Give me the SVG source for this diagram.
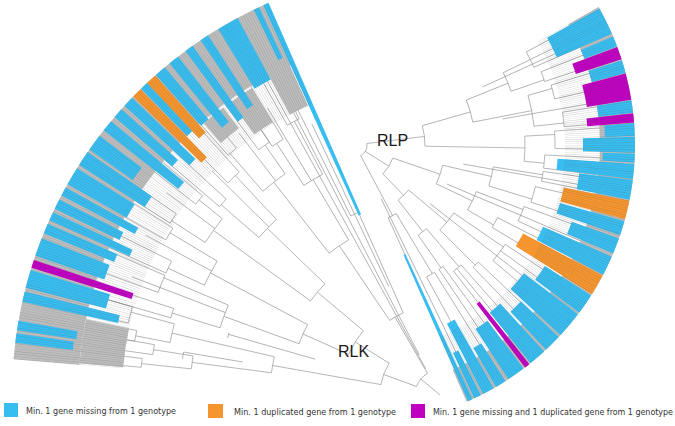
<svg xmlns="http://www.w3.org/2000/svg" width="675" height="426" viewBox="0 0 675 426">
<style>
.b{fill:none;stroke:#8d8d8d;stroke-width:.6}
.s{fill:none}
.cy{stroke:#38bdf0}
.or{stroke:#f6952d}
.mg{stroke:#c000c0}
.gr{stroke:#bdbdbd}
.tx{stroke:#5a5a5a;stroke-opacity:.33;fill:none}
.t{font-family:"DejaVu Sans",Verdana,sans-serif;font-size:8px;fill:#333}
.lb{font-family:"Liberation Sans",Arial,sans-serif;font-size:16px;fill:#1a1a1a}
</style>
<defs>
<clipPath id="cl"><polygon points="440,395 -8.4,357.3 17.1,241.1 71.4,136.9 150.7,50.3 259.1,-17"/></clipPath>
<clipPath id="cr"><polygon points="355,145 616.1,-2.7 653.9,118.9 636.9,247.6 567.1,357.1 474.6,420.1"/></clipPath>
</defs>
<rect width="675" height="426" fill="#fff"/>

<g id="rlk-tree" transform="translate(440,395)">
<g id="rlk-branches">
<line class="b" x1="0" x2="25" transform="rotate(220)"/>
<line class="b" x1="25" x2="90" transform="rotate(240)"/>
<line class="b" x1="25" x2="60" transform="rotate(200)"/>
<line class="b" x1="90" x2="200" transform="rotate(245.9)"/>
<line class="b" x1="90" x2="180" transform="rotate(236)"/>
<line class="b" x1="30" x2="370" transform="rotate(241.2)"/>
<line class="b" x1="45" x2="370" transform="rotate(242.6)"/>
<line class="b" x1="60" x2="100" transform="rotate(212)"/>
<line class="b" x1="60" x2="170" transform="rotate(190)"/>
<line class="b" x1="180" x2="250" transform="rotate(239.5)"/>
<line class="b" x1="180" x2="270" transform="rotate(232)"/>
<line class="b" x1="100" x2="160" transform="rotate(220)"/>
<line class="b" x1="100" x2="150" transform="rotate(204)"/>
<line class="b" x1="170" x2="275" transform="rotate(193)"/>
<line class="b" x1="170" x2="250" transform="rotate(187.5)"/>
<line class="b" x1="160" x2="240" transform="rotate(224)"/>
<line class="b" x1="160" x2="280" transform="rotate(216)"/>
<line class="b" x1="150" x2="260" transform="rotate(208)"/>
<line class="b" x1="150" x2="230" transform="rotate(200)"/>
<line class="b" x1="200" x2="380" transform="rotate(243.5)"/>
<line class="b" x1="200" x2="428" transform="rotate(245.9)"/>
<line class="b" x1="120" x2="300" transform="rotate(244.7)"/>
<line class="b" x1="250" x2="300" transform="rotate(237)"/>
<line class="b" x1="250" x2="310" transform="rotate(242)"/>
<line class="b" x1="250" x2="335" transform="rotate(239)"/>
<line class="b" x1="300" x2="370" transform="rotate(236)"/>
<line class="b" x1="300" x2="370" transform="rotate(238.5)"/>
<line class="b" x1="310" x2="370" transform="rotate(240.5)"/>
<line class="b" x1="310" x2="370" transform="rotate(243)"/>
<line class="b" x1="270" x2="320" transform="rotate(229)"/>
<line class="b" x1="270" x2="305" transform="rotate(235)"/>
<line class="b" x1="270" x2="330" transform="rotate(232.5)"/>
<line class="b" x1="320" x2="370" transform="rotate(228.5)"/>
<line class="b" x1="320" x2="370" transform="rotate(230.5)"/>
<line class="b" x1="305" x2="370" transform="rotate(233.5)"/>
<line class="b" x1="305" x2="370" transform="rotate(236)"/>
<line class="b" x1="240" x2="290" transform="rotate(221)"/>
<line class="b" x1="240" x2="300" transform="rotate(227)"/>
<line class="b" x1="240" x2="320" transform="rotate(224.5)"/>
<line class="b" x1="290" x2="370" transform="rotate(220.5)"/>
<line class="b" x1="290" x2="370" transform="rotate(222.5)"/>
<line class="b" x1="300" x2="370" transform="rotate(225)"/>
<line class="b" x1="300" x2="370" transform="rotate(228)"/>
<line class="b" x1="280" x2="320" transform="rotate(213)"/>
<line class="b" x1="280" x2="310" transform="rotate(219)"/>
<line class="b" x1="280" x2="340" transform="rotate(216.5)"/>
<line class="b" x1="320" x2="370" transform="rotate(212.5)"/>
<line class="b" x1="320" x2="370" transform="rotate(214.5)"/>
<line class="b" x1="310" x2="370" transform="rotate(218)"/>
<line class="b" x1="310" x2="370" transform="rotate(220)"/>
<line class="b" x1="260" x2="300" transform="rotate(205)"/>
<line class="b" x1="260" x2="315" transform="rotate(211)"/>
<line class="b" x1="260" x2="335" transform="rotate(208.5)"/>
<line class="b" x1="300" x2="370" transform="rotate(204)"/>
<line class="b" x1="300" x2="370" transform="rotate(206.5)"/>
<line class="b" x1="315" x2="370" transform="rotate(209.5)"/>
<line class="b" x1="315" x2="370" transform="rotate(212)"/>
<line class="b" x1="230" x2="280" transform="rotate(197)"/>
<line class="b" x1="230" x2="300" transform="rotate(203)"/>
<line class="b" x1="230" x2="330" transform="rotate(201)"/>
<line class="b" x1="280" x2="370" transform="rotate(196)"/>
<line class="b" x1="280" x2="370" transform="rotate(198)"/>
<line class="b" x1="300" x2="370" transform="rotate(200)"/>
<line class="b" x1="300" x2="370" transform="rotate(203.5)"/>
<line class="b" x1="275" x2="310" transform="rotate(191)"/>
<line class="b" x1="275" x2="320" transform="rotate(195)"/>
<line class="b" x1="310" x2="370" transform="rotate(190)"/>
<line class="b" x1="310" x2="370" transform="rotate(192)"/>
<line class="b" x1="320" x2="370" transform="rotate(193)"/>
<line class="b" x1="320" x2="370" transform="rotate(196)"/>
<line class="b" x1="250" x2="300" transform="rotate(186)"/>
<line class="b" x1="250" x2="290" transform="rotate(189)"/>
<line class="b" x1="300" x2="370" transform="rotate(185.3)"/>
<line class="b" x1="300" x2="370" transform="rotate(187)"/>
<line class="b" x1="290" x2="370" transform="rotate(188)"/>
<line class="b" x1="290" x2="370" transform="rotate(190)"/>
<line class="b" x1="200" x2="260" transform="rotate(189.5)"/>
<line class="b" x1="130" x2="220" transform="rotate(196)"/>
<circle class="b" r="25" pathLength="360" stroke-dasharray="40 999" transform="rotate(200)"/>
<circle class="b" r="90" pathLength="360" stroke-dasharray="9.9 999" transform="rotate(236)"/>
<circle class="b" r="60" pathLength="360" stroke-dasharray="22 999" transform="rotate(190)"/>
<circle class="b" r="180" pathLength="360" stroke-dasharray="7.5 999" transform="rotate(232)"/>
<circle class="b" r="100" pathLength="360" stroke-dasharray="16 999" transform="rotate(204)"/>
<circle class="b" r="170" pathLength="360" stroke-dasharray="5.5 999" transform="rotate(187.5)"/>
<circle class="b" r="160" pathLength="360" stroke-dasharray="8 999" transform="rotate(216)"/>
<circle class="b" r="150" pathLength="360" stroke-dasharray="8 999" transform="rotate(200)"/>
<circle class="b" r="200" pathLength="360" stroke-dasharray="2.4 999" transform="rotate(243.5)"/>
<circle class="b" r="250" pathLength="360" stroke-dasharray="5 999" transform="rotate(237)"/>
<circle class="b" r="300" pathLength="360" stroke-dasharray="2.5 999" transform="rotate(236)"/>
<circle class="b" r="310" pathLength="360" stroke-dasharray="2.5 999" transform="rotate(240.5)"/>
<circle class="b" r="270" pathLength="360" stroke-dasharray="6 999" transform="rotate(229)"/>
<circle class="b" r="320" pathLength="360" stroke-dasharray="2 999" transform="rotate(228.5)"/>
<circle class="b" r="305" pathLength="360" stroke-dasharray="2.5 999" transform="rotate(233.5)"/>
<circle class="b" r="240" pathLength="360" stroke-dasharray="6 999" transform="rotate(221)"/>
<circle class="b" r="290" pathLength="360" stroke-dasharray="2 999" transform="rotate(220.5)"/>
<circle class="b" r="300" pathLength="360" stroke-dasharray="3 999" transform="rotate(225)"/>
<circle class="b" r="280" pathLength="360" stroke-dasharray="6 999" transform="rotate(213)"/>
<circle class="b" r="320" pathLength="360" stroke-dasharray="2 999" transform="rotate(212.5)"/>
<circle class="b" r="310" pathLength="360" stroke-dasharray="2 999" transform="rotate(218)"/>
<circle class="b" r="260" pathLength="360" stroke-dasharray="6 999" transform="rotate(205)"/>
<circle class="b" r="300" pathLength="360" stroke-dasharray="2.5 999" transform="rotate(204)"/>
<circle class="b" r="315" pathLength="360" stroke-dasharray="2.5 999" transform="rotate(209.5)"/>
<circle class="b" r="230" pathLength="360" stroke-dasharray="6 999" transform="rotate(197)"/>
<circle class="b" r="280" pathLength="360" stroke-dasharray="2 999" transform="rotate(196)"/>
<circle class="b" r="300" pathLength="360" stroke-dasharray="3.5 999" transform="rotate(200)"/>
<circle class="b" r="275" pathLength="360" stroke-dasharray="4 999" transform="rotate(191)"/>
<circle class="b" r="310" pathLength="360" stroke-dasharray="2 999" transform="rotate(190)"/>
<circle class="b" r="320" pathLength="360" stroke-dasharray="3 999" transform="rotate(193)"/>
<circle class="b" r="250" pathLength="360" stroke-dasharray="3 999" transform="rotate(186)"/>
<circle class="b" r="300" pathLength="360" stroke-dasharray="1.7 999" transform="rotate(185.3)"/>
<circle class="b" r="290" pathLength="360" stroke-dasharray="2 999" transform="rotate(188)"/>
<circle class="b" r="260" pathLength="360" stroke-dasharray="1.5 999" transform="rotate(188)"/>
<circle class="b" r="220" pathLength="360" stroke-dasharray="1.5 999" transform="rotate(195)"/>
</g>
<g id="rlk-bands">
<circle class="s gr" r="395" stroke-width="66" pathLength="360" stroke-dasharray="61.4 999" transform="rotate(184.8)"/>
<circle class="s gr" r="345" stroke-width="54" pathLength="360" stroke-dasharray="3.7 999" transform="rotate(241.8)"/>
<circle class="s gr" r="340" stroke-width="40" pathLength="360" stroke-dasharray="4 999" transform="rotate(234.5)"/>
<circle class="s gr" r="347" stroke-width="26" pathLength="360" stroke-dasharray="4 999" transform="rotate(229)"/>
<circle class="s gr" r="340" stroke-width="44" pathLength="360" stroke-dasharray="7 999" transform="rotate(185)"/>
<circle class="s cy" r="312.5" stroke-width="231" pathLength="360" stroke-dasharray="0.8 999" transform="rotate(245.6)"/>
<circle class="s cy" r="400" stroke-width="56" pathLength="360" stroke-dasharray="0.8 999" transform="rotate(244.2)"/>
<circle class="s cy" r="393" stroke-width="70" pathLength="360" stroke-dasharray="3 999" transform="rotate(238.8)"/>
<circle class="s cy" r="386.5" stroke-width="83" pathLength="360" stroke-dasharray="1.2 999" transform="rotate(236)"/>
<circle class="s cy" r="384" stroke-width="88" pathLength="360" stroke-dasharray="1.2 999" transform="rotate(233.5)"/>
<circle class="s cy" r="386.5" stroke-width="83" pathLength="360" stroke-dasharray="1.5 999" transform="rotate(230.8)"/>
<circle class="s cy" r="394" stroke-width="68" pathLength="360" stroke-dasharray="1.6 999" transform="rotate(228.4)"/>
<circle class="s or" r="390" stroke-width="76" pathLength="360" stroke-dasharray="1.5 999" transform="rotate(226.8)"/>
<circle class="s cy" r="395" stroke-width="66" pathLength="360" stroke-dasharray="1.1 999" transform="rotate(225.7)"/>
<circle class="s or" r="380.5" stroke-width="95" pathLength="360" stroke-dasharray="1.4 999" transform="rotate(224.2)"/>
<circle class="s cy" r="384" stroke-width="88" pathLength="360" stroke-dasharray="1.5 999" transform="rotate(222.5)"/>
<circle class="s cy" r="390" stroke-width="76" pathLength="360" stroke-dasharray="1.4 999" transform="rotate(220.5)"/>
<circle class="s cy" r="380.5" stroke-width="95" pathLength="360" stroke-dasharray="1.6 999" transform="rotate(218.2)"/>
<circle class="s cy" r="401.5" stroke-width="53" pathLength="360" stroke-dasharray="2.3 999" transform="rotate(215)"/>
<circle class="s cy" r="389" stroke-width="78" pathLength="360" stroke-dasharray="2.1 999" transform="rotate(212.5)"/>
<circle class="s cy" r="394" stroke-width="68" pathLength="360" stroke-dasharray="2.5 999" transform="rotate(209.5)"/>
<circle class="s cy" r="386.5" stroke-width="83" pathLength="360" stroke-dasharray="1.2 999" transform="rotate(207.8)"/>
<circle class="s cy" r="392" stroke-width="72" pathLength="360" stroke-dasharray="1.4 999" transform="rotate(205.8)"/>
<circle class="s cy" r="384" stroke-width="88" pathLength="360" stroke-dasharray="1.2 999" transform="rotate(204.1)"/>
<circle class="s cy" r="390" stroke-width="76" pathLength="360" stroke-dasharray="1.4 999" transform="rotate(202.2)"/>
<circle class="s cy" r="391.5" stroke-width="73" pathLength="360" stroke-dasharray="2.5 999" transform="rotate(199)"/>
<circle class="s mg" r="375.5" stroke-width="105" pathLength="360" stroke-dasharray="1.1 999" transform="rotate(197.3)"/>
<circle class="s cy" r="386.5" stroke-width="83" pathLength="360" stroke-dasharray="2.5 999" transform="rotate(194.5)"/>
<circle class="s cy" r="379" stroke-width="98" pathLength="360" stroke-dasharray="1.4 999" transform="rotate(192.6)"/>
<circle class="s cy" r="398" stroke-width="60" pathLength="360" stroke-dasharray="1.3 999" transform="rotate(188.7)"/>
<circle class="s cy" r="399" stroke-width="58" pathLength="360" stroke-dasharray="1.3 999" transform="rotate(187)"/>
</g>
</g>
<circle id="rlk-leaves" class="tx" cx="440" cy="395" r="373" stroke-width="110" pathLength="360" stroke-dasharray="0.06 0.29" clip-path="url(#cl)"/>

<g id="rlp-tree" transform="translate(355,145)">
<g id="rlp-branches">
<line class="b" x1="12" x2="70" transform="rotate(-7)"/>
<line class="b" x1="12" x2="40" transform="rotate(32)"/>
<line class="b" x1="12" x2="80" transform="rotate(62)"/>
<line class="b" x1="70" x2="120" transform="rotate(-16)"/>
<line class="b" x1="70" x2="170" transform="rotate(1)"/>
<line class="b" x1="120" x2="165" transform="rotate(-22)"/>
<line class="b" x1="120" x2="180" transform="rotate(-11)"/>
<line class="b" x1="40" x2="90" transform="rotate(19)"/>
<line class="b" x1="40" x2="70" transform="rotate(46)"/>
<line class="b" x1="90" x2="140" transform="rotate(13)"/>
<line class="b" x1="90" x2="130" transform="rotate(25.5)"/>
<line class="b" x1="70" x2="120" transform="rotate(40)"/>
<line class="b" x1="70" x2="110" transform="rotate(52)"/>
<line class="b" x1="165" x2="195" transform="rotate(-26)"/>
<line class="b" x1="165" x2="200" transform="rotate(-19)"/>
<line class="b" x1="195" x2="250" transform="rotate(-28.5)"/>
<line class="b" x1="195" x2="250" transform="rotate(-26)"/>
<line class="b" x1="195" x2="250" transform="rotate(-23.5)"/>
<line class="b" x1="200" x2="250" transform="rotate(-21.5)"/>
<line class="b" x1="200" x2="250" transform="rotate(-18.5)"/>
<line class="b" x1="180" x2="205" transform="rotate(-16)"/>
<line class="b" x1="180" x2="210" transform="rotate(-6)"/>
<line class="b" x1="205" x2="250" transform="rotate(-17)"/>
<line class="b" x1="205" x2="250" transform="rotate(-13)"/>
<line class="b" x1="210" x2="250" transform="rotate(-9)"/>
<line class="b" x1="210" x2="250" transform="rotate(-5)"/>
<line class="b" x1="170" x2="200" transform="rotate(-3)"/>
<line class="b" x1="170" x2="190" transform="rotate(5.5)"/>
<line class="b" x1="200" x2="250" transform="rotate(-4)"/>
<line class="b" x1="200" x2="250" transform="rotate(1)"/>
<line class="b" x1="190" x2="250" transform="rotate(3)"/>
<line class="b" x1="190" x2="250" transform="rotate(7)"/>
<line class="b" x1="140" x2="190" transform="rotate(9)"/>
<line class="b" x1="140" x2="185" transform="rotate(17)"/>
<line class="b" x1="190" x2="250" transform="rotate(8)"/>
<line class="b" x1="190" x2="250" transform="rotate(11)"/>
<line class="b" x1="185" x2="250" transform="rotate(13)"/>
<line class="b" x1="185" x2="250" transform="rotate(18)"/>
<line class="b" x1="130" x2="180" transform="rotate(21)"/>
<line class="b" x1="130" x2="160" transform="rotate(30)"/>
<line class="b" x1="180" x2="250" transform="rotate(20)"/>
<line class="b" x1="180" x2="250" transform="rotate(25)"/>
<line class="b" x1="160" x2="250" transform="rotate(27)"/>
<line class="b" x1="160" x2="250" transform="rotate(31)"/>
<line class="b" x1="120" x2="180" transform="rotate(34.5)"/>
<line class="b" x1="120" x2="170" transform="rotate(45)"/>
<line class="b" x1="180" x2="250" transform="rotate(33.5)"/>
<line class="b" x1="180" x2="250" transform="rotate(36)"/>
<line class="b" x1="180" x2="250" transform="rotate(40)"/>
<line class="b" x1="170" x2="250" transform="rotate(43.5)"/>
<line class="b" x1="170" x2="250" transform="rotate(46)"/>
<line class="b" x1="110" x2="160" transform="rotate(49.5)"/>
<line class="b" x1="110" x2="150" transform="rotate(55)"/>
<line class="b" x1="160" x2="250" transform="rotate(48.5)"/>
<line class="b" x1="160" x2="250" transform="rotate(50.5)"/>
<line class="b" x1="160" x2="250" transform="rotate(52)"/>
<line class="b" x1="150" x2="250" transform="rotate(54)"/>
<line class="b" x1="150" x2="250" transform="rotate(56)"/>
<line class="b" x1="80" x2="150" transform="rotate(59)"/>
<line class="b" x1="80" x2="120" transform="rotate(65.5)"/>
<line class="b" x1="150" x2="250" transform="rotate(58)"/>
<line class="b" x1="150" x2="250" transform="rotate(61.5)"/>
<line class="b" x1="60" x2="250" transform="rotate(64)"/>
<line class="b" x1="140" x2="250" transform="rotate(-24.5)"/>
<line class="b" x1="150" x2="250" transform="rotate(-10)"/>
<line class="b" x1="110" x2="250" transform="rotate(10)"/>
<line class="b" x1="100" x2="250" transform="rotate(23)"/>
<line class="b" x1="95" x2="250" transform="rotate(38)"/>
<circle class="b" r="12" pathLength="360" stroke-dasharray="69 999" transform="rotate(-7)"/>
<circle class="b" r="70" pathLength="360" stroke-dasharray="17 999" transform="rotate(-16)"/>
<circle class="b" r="120" pathLength="360" stroke-dasharray="11 999" transform="rotate(-22)"/>
<circle class="b" r="40" pathLength="360" stroke-dasharray="27 999" transform="rotate(19)"/>
<circle class="b" r="90" pathLength="360" stroke-dasharray="12.5 999" transform="rotate(13)"/>
<circle class="b" r="70" pathLength="360" stroke-dasharray="12 999" transform="rotate(40)"/>
<circle class="b" r="165" pathLength="360" stroke-dasharray="7 999" transform="rotate(-26)"/>
<circle class="b" r="195" pathLength="360" stroke-dasharray="5 999" transform="rotate(-28.5)"/>
<circle class="b" r="200" pathLength="360" stroke-dasharray="3 999" transform="rotate(-21.5)"/>
<circle class="b" r="180" pathLength="360" stroke-dasharray="10 999" transform="rotate(-16)"/>
<circle class="b" r="205" pathLength="360" stroke-dasharray="4 999" transform="rotate(-17)"/>
<circle class="b" r="210" pathLength="360" stroke-dasharray="4 999" transform="rotate(-9)"/>
<circle class="b" r="170" pathLength="360" stroke-dasharray="8.5 999" transform="rotate(-3)"/>
<circle class="b" r="200" pathLength="360" stroke-dasharray="5 999" transform="rotate(-4)"/>
<circle class="b" r="190" pathLength="360" stroke-dasharray="4 999" transform="rotate(3)"/>
<circle class="b" r="140" pathLength="360" stroke-dasharray="8 999" transform="rotate(9)"/>
<circle class="b" r="190" pathLength="360" stroke-dasharray="3 999" transform="rotate(8)"/>
<circle class="b" r="185" pathLength="360" stroke-dasharray="5 999" transform="rotate(13)"/>
<circle class="b" r="130" pathLength="360" stroke-dasharray="9 999" transform="rotate(21)"/>
<circle class="b" r="180" pathLength="360" stroke-dasharray="5 999" transform="rotate(20)"/>
<circle class="b" r="160" pathLength="360" stroke-dasharray="4 999" transform="rotate(27)"/>
<circle class="b" r="120" pathLength="360" stroke-dasharray="10.5 999" transform="rotate(34.5)"/>
<circle class="b" r="180" pathLength="360" stroke-dasharray="6.5 999" transform="rotate(33.5)"/>
<circle class="b" r="170" pathLength="360" stroke-dasharray="2.5 999" transform="rotate(43.5)"/>
<circle class="b" r="110" pathLength="360" stroke-dasharray="5.5 999" transform="rotate(49.5)"/>
<circle class="b" r="160" pathLength="360" stroke-dasharray="3.5 999" transform="rotate(48.5)"/>
<circle class="b" r="150" pathLength="360" stroke-dasharray="2 999" transform="rotate(54)"/>
<circle class="b" r="80" pathLength="360" stroke-dasharray="6.5 999" transform="rotate(59)"/>
<circle class="b" r="150" pathLength="360" stroke-dasharray="3.5 999" transform="rotate(58)"/>
</g>
<g id="rlp-bands">
<circle class="s gr" r="262.5" stroke-width="35" pathLength="360" stroke-dasharray="96 999" transform="rotate(-29.5)"/>
<circle class="s cy" r="250" stroke-width="60" pathLength="360" stroke-dasharray="5.8 999" transform="rotate(-29.2)"/>
<circle class="s cy" r="262.5" stroke-width="35" pathLength="360" stroke-dasharray="2.2 999" transform="rotate(-22.8)"/>
<circle class="s mg" r="256" stroke-width="48" pathLength="360" stroke-dasharray="2.7 999" transform="rotate(-20.5)"/>
<circle class="s cy" r="262.5" stroke-width="35" pathLength="360" stroke-dasharray="2.7 999" transform="rotate(-17.6)"/>
<circle class="s mg" r="257.5" stroke-width="45" pathLength="360" stroke-dasharray="5.5 999" transform="rotate(-14.8)"/>
<circle class="s cy" r="262.5" stroke-width="35" pathLength="360" stroke-dasharray="2.6 999" transform="rotate(-9.2)"/>
<circle class="s mg" r="256.5" stroke-width="47" pathLength="360" stroke-dasharray="1.9 999" transform="rotate(-6.5)"/>
<circle class="s cy" r="265" stroke-width="30" pathLength="360" stroke-dasharray="2.7 999" transform="rotate(-4.5)"/>
<circle class="s cy" r="254" stroke-width="52" pathLength="360" stroke-dasharray="3.3 999" transform="rotate(-1.7)"/>
<circle class="s cy" r="264" stroke-width="32" pathLength="360" stroke-dasharray="1.8 999" transform="rotate(1.8)"/>
<circle class="s cy" r="241.5" stroke-width="77" pathLength="360" stroke-dasharray="3.1 999" transform="rotate(3.9)"/>
<circle class="s cy" r="253" stroke-width="54" pathLength="360" stroke-dasharray="4.1 999" transform="rotate(7.2)"/>
<circle class="s or" r="246.5" stroke-width="67" pathLength="360" stroke-dasharray="3.9 999" transform="rotate(11.5)"/>
<circle class="s cy" r="246.5" stroke-width="67" pathLength="360" stroke-dasharray="3 999" transform="rotate(15.8)"/>
<circle class="s cy" r="255" stroke-width="50" pathLength="360" stroke-dasharray="3.3 999" transform="rotate(19.5)"/>
<circle class="s cy" r="242.5" stroke-width="75" pathLength="360" stroke-dasharray="4.1 999" transform="rotate(23.5)"/>
<circle class="s or" r="235" stroke-width="90" pathLength="360" stroke-dasharray="4.4 999" transform="rotate(27.8)"/>
<circle class="s cy" r="252.5" stroke-width="55" pathLength="360" stroke-dasharray="4.3 999" transform="rotate(32.5)"/>
<circle class="s cy" r="246" stroke-width="68" pathLength="360" stroke-dasharray="5.6 999" transform="rotate(37.2)"/>
<circle class="s cy" r="254" stroke-width="52" pathLength="360" stroke-dasharray="3.7 999" transform="rotate(43.3)"/>
<circle class="s cy" r="247.5" stroke-width="65" pathLength="360" stroke-dasharray="3.7 999" transform="rotate(47.5)"/>
<circle class="s mg" r="240" stroke-width="80" pathLength="360" stroke-dasharray="1.1 999" transform="rotate(51.5)"/>
<circle class="s cy" r="250" stroke-width="60" pathLength="360" stroke-dasharray="3.8 999" transform="rotate(53)"/>
<circle class="s cy" r="257.5" stroke-width="45" pathLength="360" stroke-dasharray="2.3 999" transform="rotate(57.5)"/>
<circle class="s cy" r="240.5" stroke-width="79" pathLength="360" stroke-dasharray="2.5 999" transform="rotate(60.3)"/>
<circle class="s cy" r="255" stroke-width="50" pathLength="360" stroke-dasharray="1.5 999" transform="rotate(63.3)"/>
<circle class="s cy" r="200" stroke-width="160" pathLength="360" stroke-dasharray="1 999" transform="rotate(65.2)"/>
</g>
</g>
<circle id="rlp-leaves" class="tx" cx="355" cy="145" r="245" stroke-width="70" pathLength="360" stroke-dasharray="0.09 0.41" clip-path="url(#cr)"/>

<g id="labels">
<text class="lb" x="377" y="146">RLP</text>
<text class="lb" x="338" y="357">RLK</text>
</g>
<g id="legend">
<rect x="4" y="403" width="14" height="14" fill="#38bdf0"/>
<text class="t" x="26" y="414" textLength="150" lengthAdjust="spacingAndGlyphs">Min. 1 gene missing from 1 genotype</text>
<rect x="208" y="404" width="15" height="14" fill="#f6952d"/>
<text class="t" x="234" y="415" textLength="162" lengthAdjust="spacingAndGlyphs">Min. 1 duplicated gene from 1 genotype</text>
<rect x="411" y="404" width="14" height="14" fill="#c000c0"/>
<text class="t" x="433" y="415" textLength="240" lengthAdjust="spacingAndGlyphs">Min. 1 gene missing and 1 duplicated gene from 1 genotype</text>
</g>
</svg>
